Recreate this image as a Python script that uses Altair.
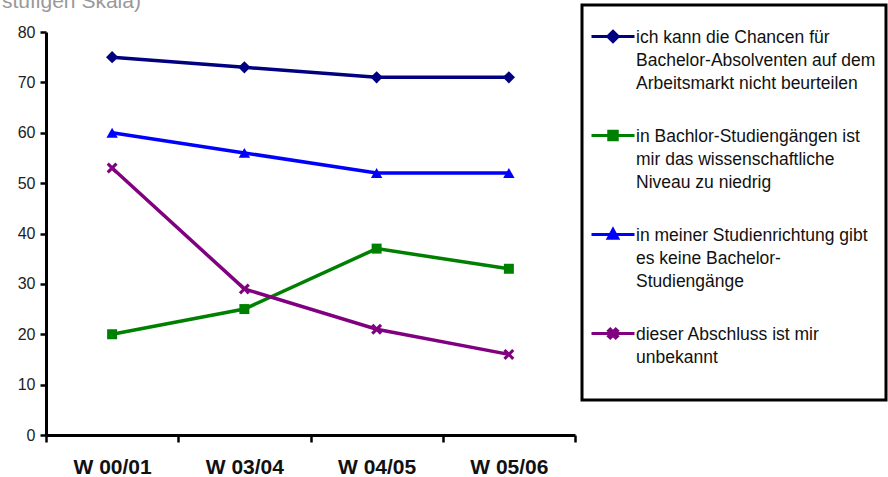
import re
import altair as alt
import pandas as pd

# Semesters on the x axis
seasons = ["W 00/01", "W 03/04", "W 04/05", "W 05/06"]

# Answer options (line breaks as shown in the legend)
series_labels = [
    "ich kann die Chancen für\nBachelor-Absolventen auf dem\nArbeitsmarkt nicht beurteilen",
    "in Bachlor-Studiengängen ist\nmir das wissenschaftliche\nNiveau zu niedrig",
    "in meiner Studienrichtung gibt\nes keine Bachelor-\nStudiengänge",
    "dieser Abschluss ist mir\nunbekannt\n",
]

# Mean values per semester
chancen = [75, 73, 71, 71]
niveau = [20, 25, 37, 33]
keine_studiengaenge = [60, 56, 52, 52]
unbekannt = [53, 29, 21, 16]

series_values = [chancen, niveau, keine_studiengaenge, unbekannt]
colors = ["#000080", "#008000", "#0000FF", "#800080"]

rows = []
for sid, (label, vals) in enumerate(zip(series_labels, series_values)):
    for i, (season, v) in enumerate(zip(seasons, vals)):
        rows.append({"season": season, "pos": i, "sid": sid, "series": label, "value": v})
df = pd.DataFrame(rows)

FONT = "Liberation Sans"

# X-shaped marker in unit coordinates
X_PATH = ("M-1,-0.6L-0.6,-1L0,-0.4L0.6,-1L1,-0.6L0.4,0L1,0.6L0.6,1L0,0.4"
          "L-0.6,1L-1,0.6L-0.4,0Z")


def transform_path(path, k, dy=0.0):
    """Scale a path made of absolute x,y pairs and shift it down by dy."""
    out = []
    for cmd, body in re.findall(r"([MLHVZ])([^MLHVZ]*)", path):
        nums = [float(n) for n in re.findall(r"-?\d+(?:\.\d+)?", body)]
        if cmd in "ML":
            pairs = [f"{nums[j] * k:.3f},{nums[j + 1] * k + dy:.3f}" for j in range(0, len(nums), 2)]
            out.append(cmd + "L".join(pairs))
        elif cmd == "H":
            out.append(cmd + f"{nums[0] * k:.3f}")
        elif cmd == "V":
            out.append(cmd + f"{nums[0] * k + dy:.3f}")
        else:
            out.append(cmd)
    return "".join(out)


marker_shapes = ["diamond", "square", "triangle-up", X_PATH]
marker_sizes = [150, 100, 130, 120]

# Legend symbols: a line segment with the marker drawn in the middle.
# Unit = 12.5 px (symbol size 625); symbol is shifted down to sit on the
# first line of its label.
SYM_R = 12.5
SHIFT = 0.6
HALF_LINE = 21.5 / SYM_R
line_seg = f"M{-HALF_LINE:.3f},{SHIFT}H{HALF_LINE:.3f}"
base_markers = [
    "M0,-1L1,0L0,1L-1,0Z",
    "M-1,-1H1V1H-1Z",
    "M0,-1L0.95,0.75H-0.95Z",
    X_PATH,
]
marker_scale = [0.42, 0.34, 0.4, 0.36]
legend_shapes = []
for shp, k in zip(base_markers, marker_scale):
    # nested outlines so the stroked marker reads as solid
    legend_shapes.append(
        line_seg
        + transform_path(shp, k, SHIFT)
        + transform_path(shp, k * 0.5, SHIFT)
        + transform_path(shp, k * 0.15, SHIFT)
    )

x_scale = alt.Scale(domain=[-0.5, 3.5], nice=False, zero=False)
y_scale = alt.Scale(domain=[0, 80], nice=False)

y_axis = alt.Axis(
    values=list(range(0, 81, 10)), grid=False, title=None,
    domainColor="black", domainWidth=3, tickColor="black", tickWidth=2.5,
    tickSize=6, labelPadding=5, labelFont=FONT, labelFontSize=16,
    labelColor="#222",
)

# Tick marks at the semester boundaries
tick_axis = alt.Axis(
    orient="bottom", values=[-0.5, 0.5, 1.5, 2.5, 3.5], labels=False,
    grid=False, title=None, domainColor="black", domainWidth=3,
    tickColor="black", tickWidth=2.5, tickSize=7,
)

season_expr = "[" + ",".join(f"'{s}'" for s in seasons) + "][datum.value]"
label_axis = alt.Axis(
    orient="bottom", values=[0, 1, 2, 3], labelExpr=season_expr, ticks=False,
    tickSize=0, domain=False, grid=False, title=None, labelPadding=21,
    labelFont=FONT, labelFontSize=21, labelFontWeight="bold",
    labelColor="#111", labelBaseline="top",
)

legend = alt.Legend(
    title=None, orient="none", legendX=536, legendY=-27,
    labelExpr="split(datum.label, '\\n')", labelFont=FONT,
    labelFontSize=17.5, labelColor="#111", labelLimit=600, labelOffset=9,
    labelBaseline="top", symbolSize=SYM_R * SYM_R * 4, symbolStrokeWidth=3,
    symbolOffset=7, symbolOpacity=1, strokeColor="black",
    fillColor="white", padding=10, rowPadding=21,
)

base = alt.Chart(df)

# One line layer and one marker layer per series
line_layers = []
point_layers = []
for sid in range(len(series_labels)):
    sub = base.transform_filter(alt.datum.sid == sid)
    line_layers.append(
        sub.mark_line(strokeWidth=3.5, color=colors[sid]).encode(
            x=alt.X("pos:Q", scale=x_scale, axis=tick_axis if sid == 0 else None),
            y=alt.Y("value:Q", scale=y_scale, axis=y_axis),
        )
    )
    point_layers.append(
        sub.mark_point(filled=True, opacity=1, shape=marker_shapes[sid],
                       size=marker_sizes[sid], color=colors[sid])
        .encode(
            x=alt.X("pos:Q", scale=x_scale, axis=label_axis if sid == 0 else None),
            y=alt.Y("value:Q", scale=y_scale, axis=y_axis),
        )
    )

# Invisible layer that carries the legend (line + marker symbols)
legend_layer = base.mark_point(filled=False, opacity=0).encode(
    x=alt.X("pos:Q", scale=x_scale, axis=None),
    y=alt.Y("value:Q", scale=y_scale, axis=y_axis),
    color=alt.Color("series:N", scale=alt.Scale(domain=series_labels, range=colors), legend=legend),
    shape=alt.Shape("series:N", scale=alt.Scale(domain=series_labels, range=legend_shapes), legend=legend),
)

chart = (
    alt.layer(*line_layers, *point_layers, legend_layer)
    .resolve_axis(x="independent")
    .properties(
        width=529,
        height=403,
        autosize=alt.AutoSizeParams(type="none"),
        padding={"left": 46, "top": 32, "right": 313, "bottom": 42},
        background="white",
        title=alt.TitleParams(
            "stufigen Skala)", anchor="start", frame="group", dx=-44, dy=33,
            fontSize=21, fontWeight="normal", color="#999", font=FONT,
            baseline="alphabetic", offset=8,
        ),
    )
    .configure(style={"guide-label": {"lineHeight": 23}})
    .configure_legend(strokeWidth=3)
    .configure_view(stroke=None)
)

chart.save("out.html", embed_options={"renderer": "svg", "actions": False})
